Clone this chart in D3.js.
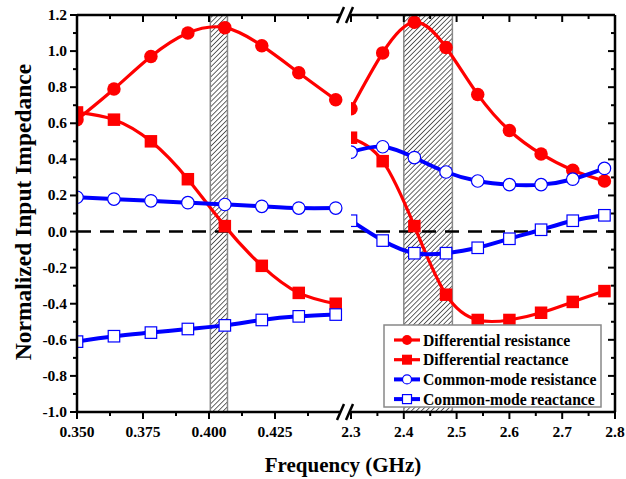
<!DOCTYPE html>
<html>
<head>
<meta charset="utf-8">
<script src="https://cdn.jsdelivr.net/npm/d3@7"></script>
<style>
  body { margin: 0; background: #fff; }
  text { font-family: "Liberation Serif", "Times New Roman", "DejaVu Serif", serif; font-weight: bold; }
</style>
</head>
<body>
<div id="chart"></div>
<script>
// chart size
const width = 626;
const height = 479;
const margin = {left: 77, right: 11, top: 15, bottom: 67};

// frequencies (GHz) for the two halves of the broken axis
const freqLow = [0.350, 0.364, 0.378, 0.392, 0.406, 0.420, 0.434, 0.448];
const freqHigh = [2.30, 2.36, 2.42, 2.48, 2.54, 2.60, 2.66, 2.72, 2.78];

// series values
const diffResLow = [0.62, 0.79, 0.97, 1.10, 1.13, 1.03, 0.88, 0.73];
const diffResHigh = [0.68, 0.99, 1.16, 1.02, 0.76, 0.56, 0.43, 0.34, 0.28];
const diffReacLow = [0.66, 0.62, 0.50, 0.29, 0.03, -0.19, -0.34, -0.40];
const diffReacHigh = [0.52, 0.39, 0.03, -0.35, -0.49, -0.49, -0.45, -0.39, -0.33];
const cmResLow = [0.19, 0.18, 0.17, 0.16, 0.15, 0.14, 0.13, 0.13];
const cmResHigh = [0.44, 0.47, 0.41, 0.33, 0.28, 0.26, 0.26, 0.29, 0.35];
const cmReacLow = [-0.61, -0.58, -0.56, -0.54, -0.52, -0.49, -0.47, -0.46];
const cmReacHigh = [0.06, -0.05, -0.12, -0.12, -0.09, -0.04, 0.01, 0.06, 0.09];

// tick labels
const yTicks = [1.2, 1.0, 0.8, 0.6, 0.4, 0.2, 0.0, -0.2, -0.4, -0.6, -0.8, -1.0];
const xTicksLow = [0.350, 0.375, 0.400, 0.425];
const xTicksHigh = [2.3, 2.4, 2.5, 2.6, 2.7, 2.8];

// shaded bands (GHz)
const bandLow = [0.4005, 0.407];
const bandHigh = [2.40, 2.492];

const seriesNames = ["Differential resistance", "Differential reactance",
                     "Common-mode resistance", "Common-mode reactance"];

const series = [
  {name: seriesNames[0], low: diffResLow, high: diffResHigh, color: "#ff0000", shape: "circle", fill: true, lw: 3.2},
  {name: seriesNames[1], low: diffReacLow, high: diffReacHigh, color: "#ff0000", shape: "square", fill: true, lw: 3.2},
  {name: seriesNames[2], low: cmResLow, high: cmResHigh, color: "#0000ff", shape: "circle", fill: false, lw: 4},
  {name: seriesNames[3], low: cmReacLow, high: cmReacHigh, color: "#0000ff", shape: "square", fill: false, lw: 4}
];

const svg = d3.select("#chart").append("svg")
  .attr("width", width)
  .attr("height", height);

const plotTop = margin.top, plotBottom = height - margin.bottom;
const breakL = 341, breakR = 351;

// scales
const yScale = d3.scaleLinear().domain([-1.0, 1.2]).range([plotBottom, plotTop]);
const xLow = d3.scaleLinear().domain([0.35, 0.45]).range([margin.left, breakL]);
const xHigh = d3.scaleLinear().domain([2.3, 2.8]).range([breakR, width - margin.right]);

// hatch pattern
const defs = svg.append("defs");
defs.append("pattern")
  .attr("id", "hatch")
  .attr("patternUnits", "userSpaceOnUse")
  .attr("width", 3.5).attr("height", 10)
  .attr("patternTransform", "rotate(45)")
  .append("line")
    .attr("x1", 0).attr("y1", 0).attr("x2", 0).attr("y2", 10)
    .attr("stroke", "#000").attr("stroke-width", 1.2);

defs.append("clipPath").attr("id", "clipLow")
  .append("rect").attr("x", xLow.range()[0]).attr("y", plotTop)
  .attr("width", breakL + 2 - xLow.range()[0]).attr("height", plotBottom - plotTop);
defs.append("clipPath").attr("id", "clipHigh")
  .append("rect").attr("x", breakR).attr("y", plotTop)
  .attr("width", xHigh.range()[1] - breakR).attr("height", plotBottom - plotTop);

// bands
[[bandLow, xLow], [bandHigh, xHigh]].forEach(([b, sc]) => {
  svg.append("rect")
    .attr("x", sc(b[0])).attr("y", plotTop)
    .attr("width", sc(b[1]) - sc(b[0])).attr("height", plotBottom - plotTop)
    .attr("fill", "url(#hatch)")
    .attr("stroke", "#888").attr("stroke-width", 1.5);
});

// zero line
svg.append("line")
  .attr("x1", margin.left).attr("x2", width - margin.right)
  .attr("y1", yScale(0)).attr("y2", yScale(0))
  .attr("stroke", "#000").attr("stroke-width", 2.5)
  .attr("stroke-dasharray", "14,9");

// draws a marker at (x, y)
function marker(g, shape, x, y, color, fill, size) {
  if (shape === "circle") {
    g.append("circle").attr("cx", x).attr("cy", y).attr("r", size / 2)
      .attr("fill", fill ? color : "#fff")
      .attr("stroke", color).attr("stroke-width", fill ? 0 : 1.2);
  } else {
    g.append("rect").attr("x", x - size / 2).attr("y", y - size / 2)
      .attr("width", size).attr("height", size)
      .attr("fill", fill ? color : "#fff")
      .attr("stroke", color).attr("stroke-width", fill ? 0 : 1.2);
  }
}

function markerSize(s) {
  if (s.fill) return s.shape === "circle" ? 13.5 : 12.5;
  return s.shape === "circle" ? 12.5 : 11.5;
}

// curves and markers for each half
[[freqLow, "low", xLow, "clipLow"], [freqHigh, "high", xHigh, "clipHigh"]].forEach(([freqs, key, sc, clip]) => {
  const g = svg.append("g").attr("clip-path", `url(#${clip})`);
  series.forEach(s => {
    const pts = freqs.map((f, i) => [sc(f), yScale(s[key][i])]);
    g.append("path")
      .attr("d", d3.line().curve(d3.curveNatural)(pts))
      .attr("fill", "none")
      .attr("stroke", s.color)
      .attr("stroke-width", s.lw);
  });
  series.forEach(s => {
    freqs.forEach((f, i) => marker(g, s.shape, sc(f), yScale(s[key][i]), s.color, s.fill, markerSize(s)));
  });
});

// axes frame
const frame = svg.append("g").attr("stroke", "#000").attr("stroke-width", 2.5).attr("fill", "none");
frame.append("line").attr("x1", margin.left).attr("x2", margin.left).attr("y1", plotTop).attr("y2", plotBottom);
frame.append("line").attr("x1", width - margin.right).attr("x2", width - margin.right).attr("y1", plotTop).attr("y2", plotBottom);
[plotTop, plotBottom].forEach(y => {
  frame.append("line").attr("x1", margin.left).attr("x2", breakL).attr("y1", y).attr("y2", y);
  frame.append("line").attr("x1", breakR).attr("x2", width - margin.right).attr("y1", y).attr("y2", y);
  // break marks
  frame.append("line").attr("x1", breakL - 4).attr("y1", y + 8).attr("x2", breakL + 3).attr("y2", y - 8).attr("stroke-width", 2.5);
  frame.append("line").attr("x1", breakL + 5).attr("y1", y + 8).attr("x2", breakL + 12).attr("y2", y - 8).attr("stroke-width", 2.5);
});

// y ticks
const tickG = svg.append("g").attr("stroke", "#000").attr("stroke-width", 2);
d3.range(-1.0, 1.21, 0.1).forEach(v => {
  const major = Math.abs(Math.round(v * 10) % 2) === 0;
  const len = major ? 7 : 4;
  const y = yScale(v);
  tickG.append("line").attr("x1", margin.left - len).attr("x2", margin.left).attr("y1", y).attr("y2", y);
  tickG.append("line").attr("x1", width - margin.right - len).attr("x2", width - margin.right).attr("y1", y).attr("y2", y);
});
svg.append("g").selectAll("text").data(yTicks).enter().append("text")
  .attr("x", margin.left - 10).attr("y", d => yScale(d) + 5)
  .attr("text-anchor", "end").attr("font-size", 15.5)
  .text(d => d.toFixed(1));

// x ticks
function xTicks(sc, step, lo, hi) {
  const n = Math.round((hi - lo) / step);
  for (let i = 0; i <= n; i++) {
    const f = lo + i * step;
    const major = i % 2 === 0;
    const len = major ? 7 : 4;
    const x = sc(f);
    tickG.append("line").attr("x1", x).attr("x2", x).attr("y1", plotBottom).attr("y2", plotBottom + len);
    tickG.append("line").attr("x1", x).attr("x2", x).attr("y1", plotTop).attr("y2", plotTop + len);
  }
}
xTicks(xLow, 0.0125, 0.35, 0.4375);
xTicks(xHigh, 0.05, 2.3, 2.8);

svg.append("g").selectAll("text").data(xTicksLow).enter().append("text")
  .attr("x", d => xLow(d)).attr("y", plotBottom + 25)
  .attr("text-anchor", "middle").attr("font-size", 15.5)
  .text(d => d.toFixed(3));
svg.append("g").selectAll("text").data(xTicksHigh).enter().append("text")
  .attr("x", d => xHigh(d)).attr("y", plotBottom + 25)
  .attr("text-anchor", "middle").attr("font-size", 15.5)
  .text(d => d.toFixed(1));

// axis titles
svg.append("text")
  .attr("x", 343).attr("y", 472)
  .attr("text-anchor", "middle").attr("font-size", 21)
  .text("Frequency (GHz)");
svg.append("text")
  .attr("transform", `translate(31, 212) rotate(-90)`)
  .attr("text-anchor", "middle").attr("font-size", 23.5)
  .text("Normalized Input Impedance");

// legend
const legend = svg.append("g");
legend.append("rect")
  .attr("x", 384).attr("y", 325).attr("width", 217).attr("height", 82)
  .attr("fill", "#fff").attr("stroke", "#888").attr("stroke-width", 1.5);
series.forEach((s, i) => {
  const y = 340 + i * 19.7;
  legend.append("line").attr("x1", 394).attr("x2", 420).attr("y1", y).attr("y2", y)
    .attr("stroke", s.color).attr("stroke-width", s.lw);
  marker(legend, s.shape, 407, y, s.color, s.fill, s.fill ? 10 : 9);
  legend.append("text").attr("x", 423).attr("y", y + 5.5)
    .attr("font-size", 15.7).text(s.name);
});
</script>
</body>
</html>
